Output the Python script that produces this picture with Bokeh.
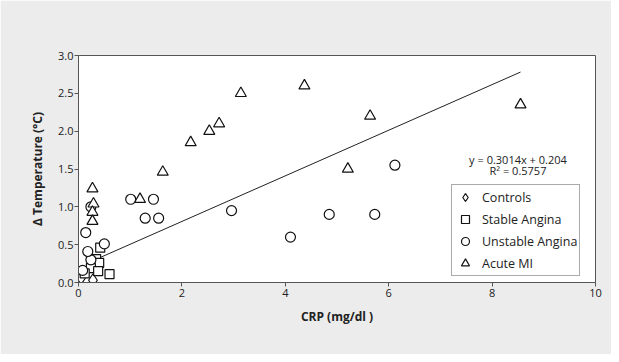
from bokeh.plotting import figure
from bokeh.models import Legend, LegendItem, Label, Range1d, FixedTicker, NumeralTickFormatter
from bokeh.embed import file_html
from bokeh.resources import INLINE

# ---- data ----
controls_x = [0.05, 0.28]
controls_y = [0.06, 0.03]
stable_x = [0.42, 0.34, 0.40, 0.24, 0.38, 0.60, 0.12]
stable_y = [0.46, 0.31, 0.26, 0.19, 0.15, 0.11, 0.12]
unstable_x = [0.08, 0.24, 0.18, 0.14, 0.50, 0.24, 1.01, 1.45, 1.29, 1.55, 2.96, 4.10, 4.85, 5.73, 6.12]
unstable_y = [0.16, 0.30, 0.41, 0.66, 0.51, 1.00, 1.10, 1.10, 0.85, 0.85, 0.95, 0.60, 0.90, 0.90, 1.55]
acute_x = [0.27, 0.29, 0.27, 0.27, 1.19, 1.63, 2.17, 2.53, 2.72, 3.14, 4.37, 5.21, 5.64, 8.55]
acute_y = [1.24, 1.04, 0.93, 0.81, 1.10, 1.46, 1.85, 2.00, 2.10, 2.50, 2.60, 1.50, 2.20, 2.35]
fit_slope = 0.3014
fit_intercept = 0.204
fit_r2 = 0.5757
fit_x_range = [0.40, 8.55]
x_ticks = [0, 2, 4, 6, 8, 10]
y_ticks = [0.0, 0.5, 1.0, 1.5, 2.0, 2.5, 3.0]

FONT = "Open Sans"
INK = "#222222"
AX = "#555555"

p = figure(width=611, height=354, output_backend="svg", toolbar_location=None,
           x_range=Range1d(0, 10), y_range=Range1d(0, 3.0),
           min_border_left=78, min_border_top=55, min_border_right=16, min_border_bottom=72)
p.border_fill_color = "#ececec"
p.background_fill_color = "white"
p.outline_line_color = AX
p.outline_line_width = 1
p.grid.visible = False

for ax in (p.xaxis[0], p.yaxis[0]):
    ax.axis_line_color = AX
    ax.major_tick_line_color = AX
    ax.minor_tick_line_color = None
    ax.major_tick_in = 0
    ax.major_tick_out = 4
    ax.major_label_text_font = FONT
    ax.major_label_text_font_size = "11px"
    ax.major_label_text_color = INK
    ax.axis_label_text_font = FONT
    ax.axis_label_text_font_size = "12px"
    ax.axis_label_text_font_style = "bold"
    ax.axis_label_text_color = INK

p.xaxis.major_label_standoff = 2
p.yaxis.major_label_standoff = 1
p.xaxis.ticker = FixedTicker(ticks=x_ticks)
p.yaxis.ticker = FixedTicker(ticks=y_ticks)
p.yaxis.formatter = NumeralTickFormatter(format="0.0")
p.xaxis.axis_label = "CRP (mg/dl )"
p.yaxis.axis_label = "\u0394 Temperature (\u00b0C)"
p.xaxis.axis_label_standoff = 8
p.yaxis.axis_label_standoff = 9

# regression line
fx = fit_x_range
fy = [fit_slope * v + fit_intercept for v in fx]
p.line(fx, fy, line_color="#222222", line_width=1)

mk = dict(fill_color="white", line_color="#111111", line_width=1.2)
r_ctrl = p.scatter(controls_x, controls_y, marker="diamond", size=13, **mk)
r_stab = p.scatter(stable_x, stable_y, marker="square", size=9, **mk)
r_unst = p.scatter(unstable_x, unstable_y, marker="circle", size=10, **mk)
r_acut = p.scatter(acute_x, acute_y, marker="triangle", size=11, **mk)

legend = Legend(items=[
    LegendItem(label="Controls", renderers=[r_ctrl]),
    LegendItem(label="Stable Angina", renderers=[r_stab]),
    LegendItem(label="Unstable Angina", renderers=[r_unst]),
    LegendItem(label="Acute MI", renderers=[r_acut]),
], location=(373, 6))
legend.border_line_color = AX
legend.border_line_width = 1
legend.background_fill_color = "white"
legend.background_fill_alpha = 1
legend.label_text_font = FONT
legend.label_text_font_size = "12.5px"
legend.label_text_color = INK
legend.glyph_width = 22
legend.glyph_height = 20
legend.label_height = 20
legend.spacing = 2
legend.padding = 2
legend.margin = 0
legend.label_standoff = 6
p.add_layout(legend, "center")

eq1 = Label(x=8.50, y=1.63, text=f"y = {fit_slope}x + {fit_intercept}",
            text_align="center", text_baseline="middle",
            text_font=FONT, text_font_size="11px", text_color=INK)
eq2 = Label(x=8.50, y=1.48, text=f"R\u00b2 = {fit_r2}",
            text_align="center", text_baseline="middle",
            text_font=FONT, text_font_size="11px", text_color=INK)
p.add_layout(eq1)
p.add_layout(eq2)

open("out.html", "w").write(file_html(p, INLINE))
